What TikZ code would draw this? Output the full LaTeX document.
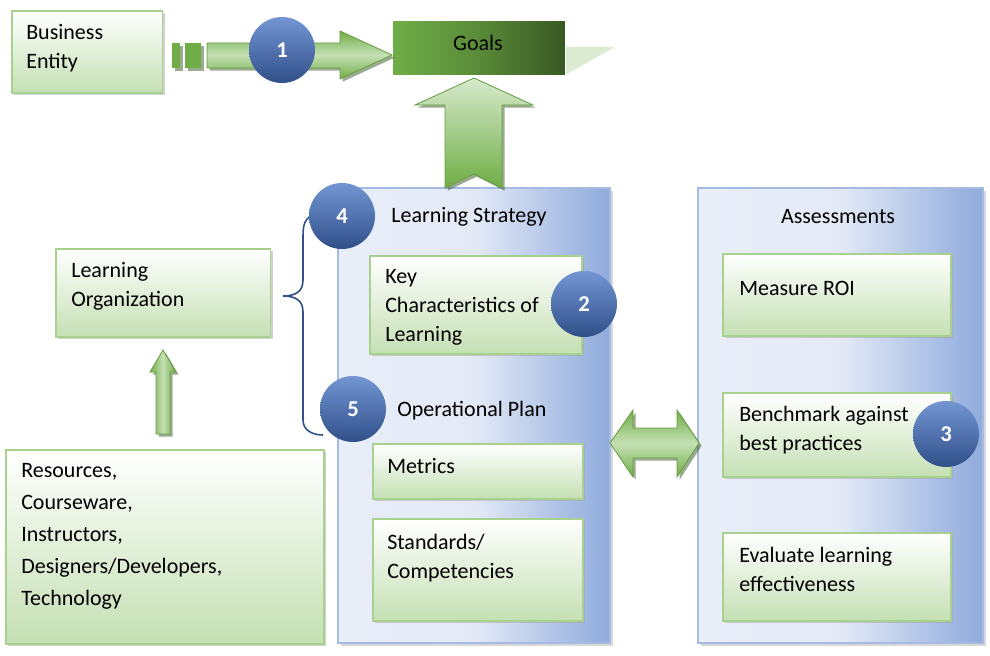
\documentclass[tikz,border=0pt]{standalone}
\usepackage{fontspec}
\setmainfont{Carlito}
\usetikzlibrary{shadows}
\definecolor{gbord}{HTML}{A9D18E}
\definecolor{gfill}{HTML}{C5E0B4}
\definecolor{gdark}{HTML}{70AD47}
\definecolor{gdeep}{HTML}{385723}
\definecolor{bpan}{HTML}{8FAADC}
\definecolor{bcirc}{HTML}{4472C4}
\tikzset{
 gbox/.style={draw=gbord,line width=1.2pt,top color=white,bottom color=gfill,drop shadow={shadow xshift=2pt,shadow yshift=-2pt,fill=black!35},anchor=north west,inner sep=0pt},
 panel/.style={draw=bpan!80,line width=1pt,left color=bpan!20,right color=bpan,middle color=bpan!25,drop shadow={shadow xshift=2pt,shadow yshift=-2pt,fill=black!30}},
 numc/.style={circle,minimum size=49.5pt,inner sep=0pt,top color=bcirc!75,bottom color=bcirc!70!black,text=white,font=\fontsize{17}{20}\selectfont\bfseries},
 garrow/.style={draw=gdark!90!black,line width=0.6pt,top color=gfill,bottom color=gdark,drop shadow={shadow xshift=2pt,shadow yshift=-2pt,fill=gdeep}},
 ptxt/.style={font=\fontsize{16.5}{21.75}\selectfont,inner sep=0pt,align=left},
 mtxt/.style={ptxt,anchor=north west}
}
\begin{document}
\begin{tikzpicture}[x=0.75pt,y=-0.75pt]
\useasboundingbox (0,0) rectangle (990,656);
% panels
\draw[panel] (338,188) rectangle (610,643);
\draw[panel] (698,188) rectangle (983,643);
\node[ptxt] (ls) at (469,217) {Learning Strategy};
\node[ptxt] (as) at (838,217) {Assessments};
\node[ptxt,anchor=west] (op) at (397,411) {Operational Plan};
% goals
\fill[gfill!60] (565,47) -- (615,47) -- (565,75) -- cycle;
\node[draw=white,line width=1pt,left color=gdark,right color=gdeep,middle color=gdark!80!black,minimum width=129.75pt,minimum height=41.25pt,anchor=north west,inner sep=0pt] (goals) at (392,20) {};
\node[ptxt] at (478,43) {Goals};
% up arrow to goals
\path[garrow,top color=gdark,bottom color=gfill!70,shading angle=180] (445,188) -- (445,105) -- (415,105) -- (474,78) -- (533,105) -- (502,105) -- (502,188) -- (474,174) -- cycle;
% business entity
\node[gbox,minimum width=113pt,minimum height=61.5pt] (be) at (11,10) {};
\node[mtxt] at (26,24) {Business\\Entity};
% arrow 1
\fill[gdark,drop shadow={shadow xshift=2pt,shadow yshift=-2pt,fill=gdeep}] (172,43) rectangle (180,68);
\fill[gdark,drop shadow={shadow xshift=2pt,shadow yshift=-2pt,fill=gdeep}] (185,43) rectangle (201,68);
\path[garrow,top color=gdark,bottom color=gdark,middle color=gfill] (207,43) -- (340,43) -- (340,31) -- (392,55) -- (340,79) -- (340,68) -- (207,68) -- cycle;
\node[numc] (n1) at (282,50) {1};
% learning org
\node[gbox,minimum width=161pt,minimum height=66pt] (lo) at (55,248) {};
\node[mtxt] at (71,262) {Learning\\Organization};
\path[garrow,left color=gdark,right color=gdark,middle color=gfill] (156,434) -- (156,372) -- (150,372) -- (163,350) -- (176,372) -- (170,372) -- (170,434) -- cycle;
% resources
\node[gbox,minimum width=238.5pt,minimum height=145.5pt] (res) at (5,449) {};
\node[mtxt,font=\fontsize{16.5}{24}\selectfont] at (21,463) {Resources,\\Courseware,\\Instructors,\\Designers/Developers,\\Technology};
% brace
\draw[bcirc!70!black,line width=1.2pt] (318,212) .. controls (303,218) and (303,225) .. (303,240) -- (303,280) .. controls (303,292) and (295,296) .. (283,296) .. controls (295,296) and (303,300) .. (303,312) -- (303,420) .. controls (303,430) and (312,435) .. (323,435);
% inner boxes
\node[gbox,minimum width=159pt,minimum height=73.5pt] (kc) at (369,255) {};
\node[mtxt] at (385,269) {Key\\Characteristics of\\Learning};
\node[gbox,minimum width=157.5pt,minimum height=41.25pt] (me) at (372,443) {};
\node[ptxt,anchor=west] at (387,466) {Metrics};
\node[gbox,minimum width=157.5pt,minimum height=76.5pt] (st) at (372,518) {};
\node[mtxt] at (387,534) {Standards/\\Competencies};
\node[gbox,minimum width=171pt,minimum height=61.5pt] (roi) at (722,253) {};
\node[ptxt,anchor=west] at (739,288) {Measure ROI};
\node[gbox,minimum width=171pt,minimum height=63pt] (bm) at (722,392) {};
\node[mtxt] at (739,406) {Benchmark against\\best practices};
\node[gbox,minimum width=171pt,minimum height=66pt] (ev) at (722,532) {};
\node[mtxt] at (739,547) {Evaluate learning\\effectiveness};
% double arrow
\path[garrow,top color=gdark,bottom color=gdark,middle color=gfill] (610,443) -- (633,410) -- (633,428) -- (677,428) -- (677,410) -- (699,443) -- (677,477) -- (677,458) -- (633,458) -- (633,477) -- cycle;
% circles
\node[numc] (n4) at (342,216) {4};
\node[numc] (n2) at (584,304) {2};
\node[numc] (n5) at (353,409) {5};
\node[numc] (n3) at (946,434) {3};
\end{tikzpicture}
\end{document}
